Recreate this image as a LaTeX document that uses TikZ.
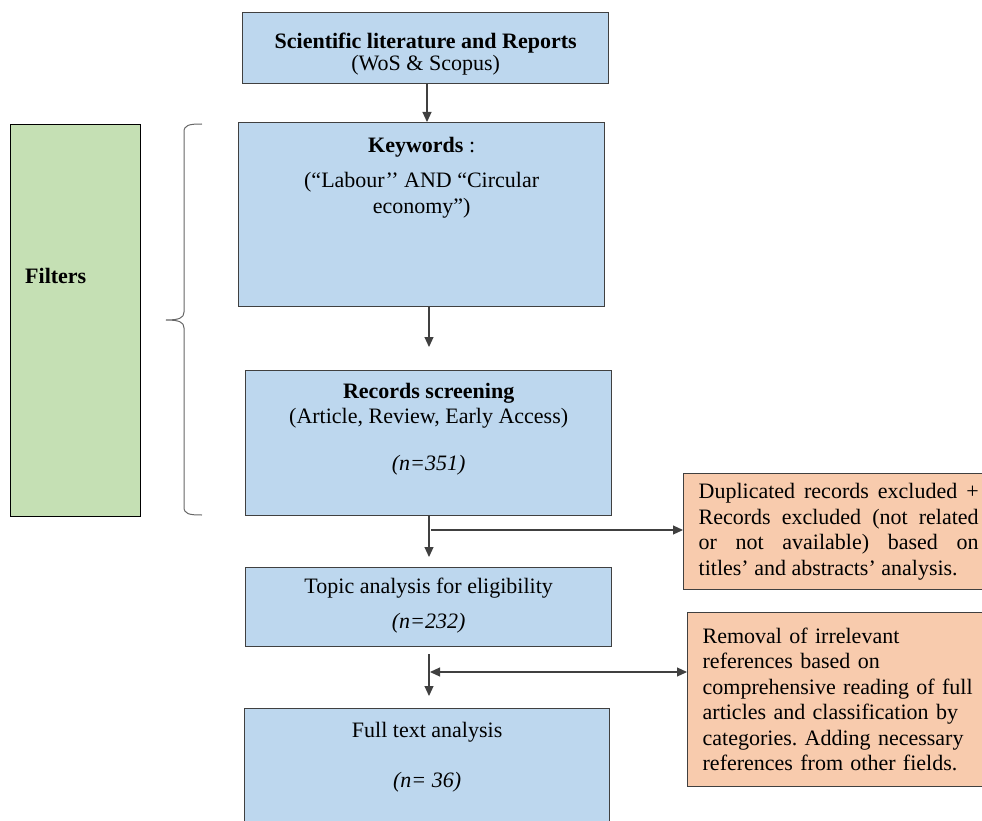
\documentclass[tikz,border=0pt]{standalone}
\usepackage{fontspec}
\setmainfont{Liberation Serif}
\usetikzlibrary{arrows.meta}
\definecolor{bleuc}{RGB}{189,215,238}
\definecolor{orangec}{RGB}{248,203,173}
\definecolor{vertc}{RGB}{197,224,180}
\hyphenpenalty=10000
\tolerance=10000
\frenchspacing

\begin{document}
\begin{tikzpicture}[x=1pt, y=-1pt, >={Triangle[length=10pt,width=9pt]}]
\tikzset{boite/.style={draw=black!75, line width=1.3pt, anchor=north west, inner sep=0pt},
  boiteb/.style={boite, fill=bleuc},
  boiteo/.style={boite, fill=orangec, inner xsep=15pt, text width=280pt, font=\fontsize{22}{25.5}\selectfont\frenchspacing},
  texte/.style={anchor=base, inner sep=0pt, font=\fontsize{22}{25}\selectfont},
  fleche/.style={draw=black!75, line width=1.1pt}}
\useasboundingbox (0,0) rectangle (982,821);
\clip (0,0) rectangle (982,821);
% colonne principale
\node[boiteb, minimum width=366pt, minimum height=71pt] (src) at (242,12) {};
\node[boiteb, minimum width=366pt, minimum height=184pt] (kw) at (238,122) {};
\node[boiteb, minimum width=366pt, minimum height=145pt] (rec) at (245,370) {};
\node[boiteb, minimum width=366pt, minimum height=79pt] (topic) at (245,567) {};
\node[boiteb, minimum width=365pt, minimum height=150pt] (full) at (244,708) {};
\node[texte] (srct) at ([yshift=-37pt]src.north) {\textbf{Scientific literature and Reports}};
\node[texte] (srcs) at ([yshift=-59pt]src.north) {(WoS \& Scopus)};
\node[texte] (kwt) at ([yshift=-31pt]kw.north) {\textbf{Keywords} :};
\node[texte] (kwa) at ([yshift=-66pt]kw.north) {(“Labour’’ AND “Circular};
\node[texte] (kwb) at ([yshift=-91pt]kw.north) {economy”)};
\node[texte] (rect) at ([yshift=-28pt]rec.north) {\textbf{Records screening}};
\node[texte] (recs) at ([yshift=-53pt]rec.north) {(Article, Review, Early Access)};
\node[texte] (recn) at ([yshift=-100pt]rec.north) {\textit{(n=351)}};
\node[texte] (topict) at ([yshift=-26pt]topic.north) {Topic analysis for eligibility};
\node[texte] (topicn) at ([yshift=-61pt]topic.north) {\textit{(n=232)}};
\node[texte] (fullt) at ([yshift=-29pt]full.north) {Full text analysis};
\node[texte] (fulln) at ([yshift=-79pt]full.north) {\textit{(n= 36)}};
% filtres
\node[boite, fill=vertc, draw=black, minimum width=130pt, minimum height=392pt] (filt) at (10,124) {};
\node[texte, anchor=base west] (filtt) at (25,283) {\textbf{Filters}};
\draw[black!60, line width=1pt] (202,124) .. controls (189,124) and (184,125) .. (184,132) -- (184,312)
  .. controls (184,318) and (179,320) .. (166,320) .. controls (179,320) and (184,322) .. (184,328)
  -- (184,507) .. controls (184,514) and (189,515) .. (202,515);
% exclusions
\node[boiteo, align=justify, minimum height=116pt] (excl) at (683,473) {Duplicated records excluded +\linebreak Records excluded (not related\linebreak or not available) based on\linebreak titles’ and abstracts’ analysis.};
\node[boiteo, align=left, minimum height=174pt] (rem) at (687,612) {Removal of irrelevant\\ references based on\\ comprehensive reading of full\\ articles and classification by\\ categories. Adding necessary\\ references from other fields.};
% fleches
\coordinate (f0) at (427,0);
\coordinate (f1) at (429,347);
\coordinate (f2) at (429,557);
\coordinate (h1) at (431,530);
\coordinate (f3a) at (429,654);
\coordinate (f3b) at (429,696);
\coordinate (h2) at (430,672);
\draw[fleche, ->] (src.south -| f0) -- (kw.north -| f0);
\draw[fleche, ->] (kw.south -| f1) -- (f1);
\draw[fleche, ->] (rec.south -| f2) -- (f2);
\draw[fleche, ->] (h1) -- (excl.west |- h1);
\draw[fleche, ->] (f3a) -- (f3b);
\draw[fleche, <->] (h2) -- (rem.west |- h2);
\end{tikzpicture}
\end{document}
